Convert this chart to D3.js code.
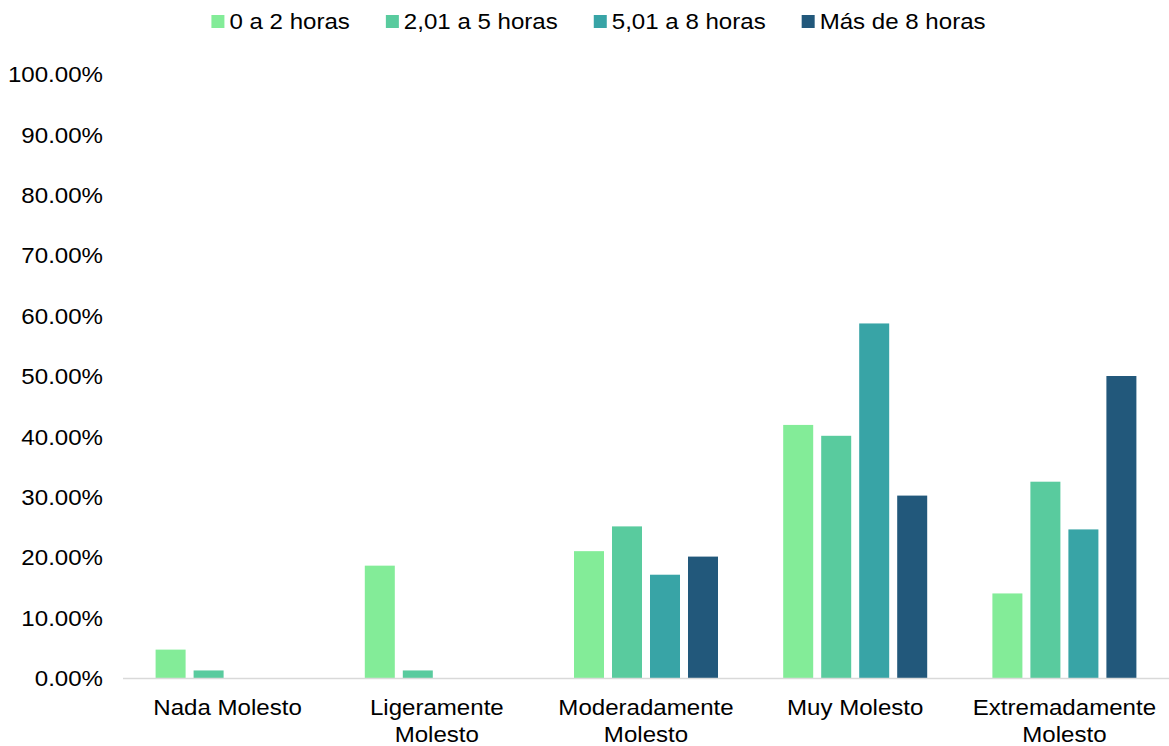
<!DOCTYPE html>
<html>
<head>
<meta charset="utf-8">
<script src="https://cdn.jsdelivr.net/npm/d3@7"></script>
<style>
  body { margin: 0; background: #fff; }
  text { font-family: "Liberation Sans", Arial, sans-serif; fill: #000; }
</style>
</head>
<body>
<div id="chart"></div>
<script>
'use strict';

const categories = ['Nada Molesto', 'Ligeramente Molesto', 'Moderadamente Molesto', 'Muy Molesto', 'Extremadamente Molesto'];
const series = ['0 a 2 horas', '2,01 a 5 horas', '5,01 a 8 horas', 'Más de 8 horas'];
const colors = ['#83ec98', '#59cb9e', '#38a4a6', '#22587b'];
// one array per series, in category order (percent)
const v0a2 = [4.7, 18.6, 21.0, 41.9, 14.0];
const v2a5 = [1.25, 1.25, 25.1, 40.1, 32.5];
const v5a8 = [0, 0, 17.1, 58.7, 24.6];
const vMas8 = [0, 0, 20.1, 30.2, 50.0];
const values = [v0a2, v2a5, v5a8, vMas8];
const yTicks = [0, 10, 20, 30, 40, 50, 60, 70, 80, 90, 100];

const width = 1169, height = 746;
const margin = {top: 74, right: 0, bottom: 68, left: 123};
const innerW = width - margin.left - margin.right;
const innerH = height - margin.top - margin.bottom;
const fontSize = 22.5;
const stretch = 1.07; // the reference text is a little wider than Arial

const svg = d3.select('#chart').append('svg')
    .attr('width', width)
    .attr('height', height);

const g = svg.append('g')
    .attr('transform', `translate(${margin.left}, ${margin.top})`);

const x0 = d3.scaleBand()
    .domain(categories)
    .range([0, innerW]);

const x1 = d3.scaleBand()
    .domain(d3.range(series.length))
    .range([0, 144])
    .paddingInner(8 / 38);
const groupOffset = (x0.bandwidth() - 144) / 2;

const y = d3.scaleLinear()
    .domain([0, 100])
    .range([innerH, 0]);

// y labels
g.append('g')
    .selectAll('text')
    .data(yTicks)
    .join('text')
        .attr('transform', d => `translate(-20, ${y(d)}) scale(${stretch}, 1)`)
        .attr('dy', '0.36em')
        .attr('text-anchor', 'end')
        .style('font-size', fontSize + 'px')
        .text(d => d.toFixed(2) + '%');

// bars
const groups = g.append('g')
    .selectAll('g')
    .data(categories)
    .join('g')
        .attr('transform', d => `translate(${x0(d) + groupOffset}, 0)`);

groups.selectAll('rect')
    .data((d, ci) => values.map((s, si) => ({si: si, v: s[ci]})).filter(d => d.v > 0))
    .join('rect')
        .attr('x', d => x1(d.si))
        .attr('width', x1.bandwidth())
        .attr('y', d => y(d.v))
        .attr('height', d => innerH - y(d.v))
        .attr('fill', d => colors[d.si]);

// x axis line
g.append('line')
    .attr('x1', 0)
    .attr('x2', innerW)
    .attr('y1', innerH + 0.5)
    .attr('y2', innerH + 0.5)
    .attr('stroke', '#d9d9d9')
    .attr('stroke-width', 1.5);

// category labels, wrapped on two lines when long
const catLabels = g.append('g')
    .selectAll('text')
    .data(categories)
    .join('text')
        .attr('text-anchor', 'middle')
        .attr('transform', d => `translate(${x0(d) + x0.bandwidth() / 2}, ${innerH + 37}) scale(${stretch}, 1)`)
        .style('font-size', fontSize + 'px');

catLabels.each(function (d) {
    const t = d3.select(this);
    const words = d === 'Nada Molesto' || d === 'Muy Molesto' ? [d] : d.split(' ');
    words.forEach((w, i) => {
        t.append('tspan')
            .attr('x', 0)
            .attr('y', i * 27.5)
            .text(w);
    });
});

// legend
const legend = svg.append('g');
const items = legend.selectAll('g')
    .data(series)
    .join('g');
items.append('rect')
    .attr('width', 13)
    .attr('height', 13)
    .attr('y', -6)
    .attr('fill', (d, i) => colors[i]);
items.append('text')
    .attr('transform', `translate(18, 0) scale(${stretch}, 1)`)
    .attr('dy', '0.36em')
    .style('font-size', fontSize + 'px')
    .text(d => d);

let cursor = 0;
items.each(function () {
    const item = d3.select(this);
    item.attr('transform', `translate(${cursor}, 0)`);
    cursor += 18 + item.select('text').node().getComputedTextLength() * stretch + 36;
});
const legendW = cursor - 36;
legend.attr('transform', `translate(${598.5 - legendW / 2}, 21)`);
</script>
</body>
</html>
